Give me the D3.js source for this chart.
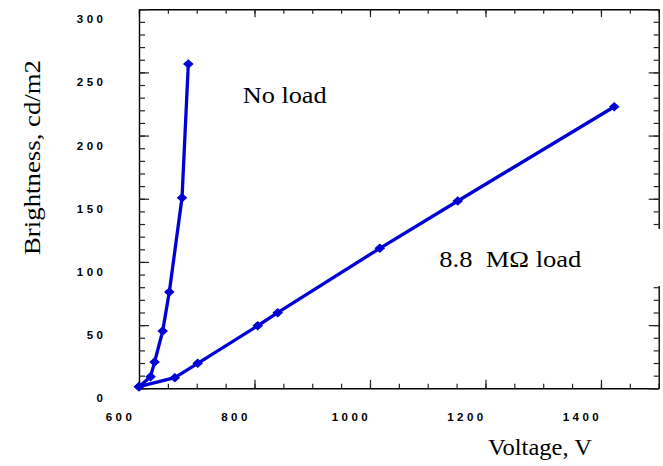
<!DOCTYPE html>
<html>
<head>
<meta charset="utf-8">
<script src="https://cdn.jsdelivr.net/npm/d3@7"></script>
<style>
  body { margin: 0; background: #fff; }
  svg { display: block; }
  .title { font-family: "Liberation Serif", "Times New Roman", serif; font-size: 24px; fill: #000; white-space: pre; }
</style>
</head>
<body>
<svg id="chart" width="663" height="466"></svg>
<script>
// data
const noLoadVoltage = [600, 620, 627, 641, 652.5, 674.5, 685.4];
const noLoadBrightness = [1.3, 9.2, 20.8, 45.3, 76.2, 150.8, 256.6];

const loadVoltage = [600, 662, 701.7, 805.6, 840.2, 1017, 1152, 1423];
const loadBrightness = [1.3, 8.4, 19.8, 49.5, 59.8, 110.8, 148.2, 222.8];

const xMajorTicks = [600, 800, 1000, 1200, 1400];
const yMajorTicks = [0, 50, 100, 150, 200, 250, 300];

const xLabel = 'Voltage, V';
const yLabel = 'Brightness, cd/m2';
const noLoadText = 'No load';
const loadText = '8.8  M\u03A9 load';

const line_color = '#0000d4';

let svg = d3.select('#chart');

let x = d3.scaleLinear().domain([600, 1500]).range([139, 658.7]);
let y = d3.scaleLinear().domain([0, 300]).range([388.3, 9.2]);

let xMinor = d3.range(600, 1501, 50);
let yMinor = d3.range(0, 301, 10);

function styleAxis(g) {
  g.select('.domain').attr('stroke', '#000').attr('stroke-width', 1.4);
  g.selectAll('.tick line').attr('stroke', '#222').attr('stroke-width', 1.2);
}

function styleLabels(sel) {
  sel.attr('font-family', null).attr('font-size', null)
    .style('font-family', 'Arial, "Liberation Sans", sans-serif')
    .style('font-weight', '700')
    .style('font-size', '11.5px')
    .style('letter-spacing', '3.5px')
    .attr('fill', '#000')
    .attr('dy', null);
}

// bottom axis: minor then major ticks, pointing inward
svg.append('g')
  .attr('transform', `translate(0,${y(0)})`)
  .call(d3.axisBottom(x).tickValues(xMinor).tickSize(-4.5).tickSizeOuter(0).tickFormat(''))
  .call(styleAxis);
let xAxisG = svg.append('g')
  .attr('transform', `translate(0,${y(0)})`)
  .call(d3.axisBottom(x).tickValues(xMajorTicks).tickSize(-8.5).tickSizeOuter(0).tickFormat(d3.format('d')))
  .call(styleAxis);
xAxisG.select('.domain').remove();
xAxisG.selectAll('text')
  .call(styleLabels)
  .attr('x', -19)
  .attr('y', 33);

// top axis
svg.append('g')
  .attr('transform', `translate(0,${y(300)})`)
  .call(d3.axisTop(x).tickValues(xMinor).tickSize(-4.5).tickSizeOuter(0).tickFormat(''))
  .call(styleAxis);
svg.append('g')
  .attr('transform', `translate(0,${y(300)})`)
  .call(d3.axisTop(x).tickValues(xMajorTicks).tickSize(-8).tickSizeOuter(0).tickFormat(''))
  .call(styleAxis)
  .select('.domain').remove();

// left axis
svg.append('g')
  .attr('transform', `translate(${x(600)},0)`)
  .call(d3.axisLeft(y).tickValues(yMinor).tickSize(-6).tickSizeOuter(0).tickFormat(''))
  .call(styleAxis);
let yAxisG = svg.append('g')
  .attr('transform', `translate(${x(600)},0)`)
  .call(d3.axisLeft(y).tickValues(yMajorTicks).tickSize(-10).tickSizeOuter(0).tickFormat(d3.format('d')))
  .call(styleAxis);
yAxisG.select('.domain').remove();
yAxisG.selectAll('text')
  .call(styleLabels)
  .attr('x', -32.5)
  .attr('y', 13.6);

// right axis
svg.append('g')
  .attr('transform', `translate(${x(1500)},0)`)
  .call(d3.axisRight(y).tickValues(yMinor).tickSize(-5).tickSizeOuter(0).tickFormat(''))
  .call(styleAxis);
svg.append('g')
  .attr('transform', `translate(${x(1500)},0)`)
  .call(d3.axisRight(y).tickValues(yMajorTicks).tickSize(-10).tickSizeOuter(0).tickFormat(''))
  .call(styleAxis)
  .select('.domain').remove();

// series
function drawSeries(xs, ys) {
  let pts = xs.map((v, i) => [v, ys[i]]);
  let line = d3.line().x(d => x(d[0])).y(d => y(d[1]));
  svg.append('path')
    .attr('d', line(pts))
    .attr('fill', 'none')
    .attr('stroke', line_color)
    .attr('stroke-width', 3.3)
    .attr('stroke-linejoin', 'round');
  svg.append('g').selectAll('path')
    .data(pts)
    .join('path')
    .attr('d', 'M0,-4.8L5.3,0L0,4.8L-5.3,0Z')
    .attr('transform', d => `translate(${x(d[0])},${y(d[1])})`)
    .attr('fill', line_color);
}
drawSeries(loadVoltage, loadBrightness);
drawSeries(noLoadVoltage, noLoadBrightness);

// labels
svg.append('text')
  .attr('class', 'title')
  .attr('x', 242.7)
  .attr('y', 103)
  .attr('textLength', 84)
  .attr('lengthAdjust', 'spacingAndGlyphs')
  .text(noLoadText);

// white box behind the load label hides part of the right frame
svg.append('rect')
  .attr('x', 432).attr('y', 229)
  .attr('width', 231).attr('height', 57)
  .attr('fill', '#fff');
svg.append('text')
  .attr('class', 'title')
  .attr('x', 439.3)
  .attr('y', 266.7)
  .attr('textLength', 142)
  .attr('lengthAdjust', 'spacingAndGlyphs')
  .text(loadText);

svg.append('text')
  .attr('class', 'title')
  .attr('x', 488)
  .attr('y', 455)
  .attr('textLength', 104)
  .attr('lengthAdjust', 'spacingAndGlyphs')
  .text(xLabel);

svg.append('text')
  .attr('class', 'title')
  .attr('transform', 'translate(40,255) rotate(-90)')
  .attr('x', 0)
  .attr('y', 0)
  .attr('textLength', 195)
  .attr('lengthAdjust', 'spacingAndGlyphs')
  .text(yLabel);
</script>
</body>
</html>
